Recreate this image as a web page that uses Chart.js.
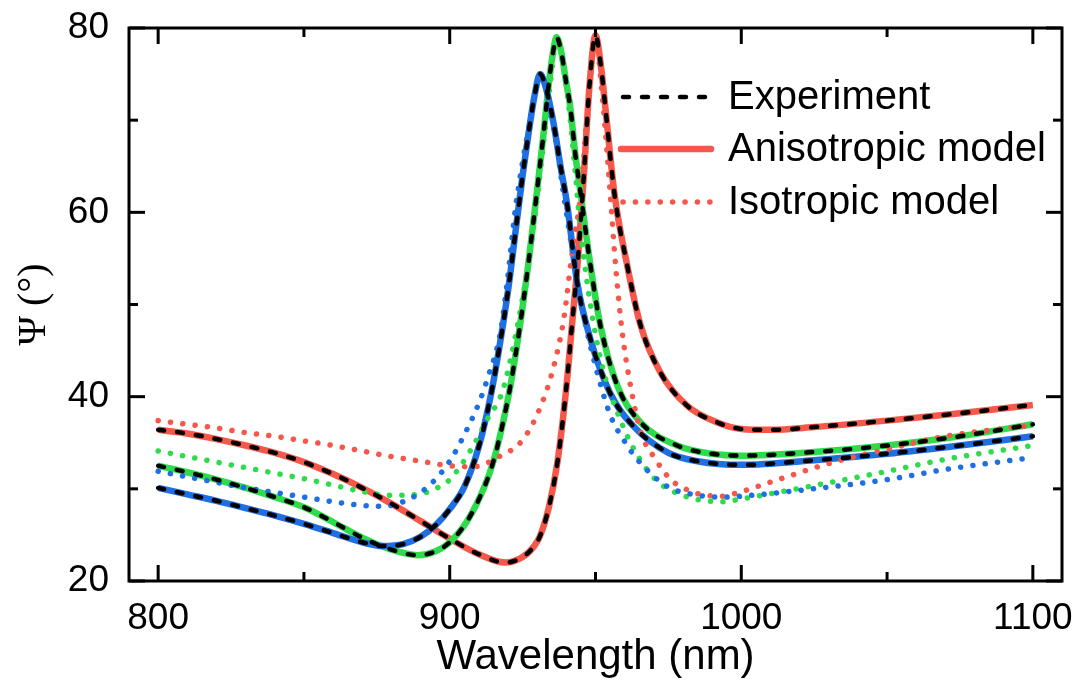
<!DOCTYPE html>
<html lang="en">
<head>
<meta charset="UTF-8">
<title>Psi vs wavelength</title>
<script src="https://cdn.jsdelivr.net/npm/chart.js"></script>
<style>
    body { margin: 0; background: #fff; }
    #chart { display: block; }
</style>
</head>
<body>
<canvas id="chart" width="1086" height="683"></canvas>

<script>
// Values (wavelength in nm, Psi in degrees)
const blueAnisoNm  = [800, 810, 820, 830, 840, 850, 860, 870, 877, 884, 890, 895, 900, 905, 910, 914, 917, 920, 923, 925, 927, 929, 931, 933, 935.7, 938, 940.3, 943.7, 948.3, 955, 963, 975, 985, 1000, 1025, 1050, 1075, 1100];
const blueAnisoPsi = [30.1, 29.4, 28.7, 27.9, 27.1, 26.2, 25.2, 24.2, 23.8, 24.0, 24.8, 26.0, 27.8, 30.2, 34.6, 40.0, 45.3, 51.5, 59.0, 64.0, 68.5, 72.5, 75.0, 73.5, 69.5, 65.0, 60.8, 52.4, 46.2, 40.4, 36.8, 33.9, 33.0, 32.6, 33.1, 33.8, 34.7, 35.7];

const greenAnisoNm  = [800, 810, 820, 830, 840, 850, 860, 870, 880, 889, 895, 900, 906, 912, 915, 918, 921, 924, 927, 930, 932, 934, 935.5, 936.6, 938, 940, 941.4, 943, 945, 948.3, 951.7, 957.5, 965.5, 978, 990, 1000, 1025, 1050, 1075, 1100];
const greenAnisoPsi = [32.5, 31.8, 31.0, 30.1, 29.1, 28.0, 26.4, 24.7, 23.4, 22.8, 23.2, 24.2, 26.5, 30.3, 33.0, 36.8, 41.5, 47.5, 54.5, 62.5, 68.0, 74.0, 77.5, 79.0, 77.8, 74.0, 71.3, 66.5, 61.8, 54.2, 47.7, 41.2, 37.2, 34.7, 33.8, 33.6, 34.0, 34.7, 35.7, 37.0];

const redAnisoNm  = [800, 810, 820, 830, 840, 850, 860, 870, 880, 890, 900, 910, 919, 925, 929, 931, 934, 937, 940, 942, 944, 946, 948, 950, 952, 953.5, 956.5, 960.9, 965.5, 972.3, 981.5, 991.8, 1000, 1010, 1025, 1050, 1075, 1100];
const redAnisoPsi = [36.4, 36.0, 35.4, 34.7, 33.9, 32.9, 31.6, 30.1, 28.4, 26.5, 24.6, 22.9, 22.0, 22.6, 23.8, 24.9, 28.0, 33.0, 41.0, 48.0, 55.0, 64.0, 74.0, 79.2, 75.5, 71.0, 62.0, 54.2, 47.7, 42.6, 39.0, 37.2, 36.5, 36.4, 36.7, 37.4, 38.2, 39.1];

const blueIsoNm  = [800, 810, 820, 830, 840, 850, 860, 870, 877, 884, 890, 895, 900, 906, 910.5, 913, 917.4, 919.7, 922.5, 925, 927, 929, 930.8, 932.5, 934.5, 936.5, 939.5, 942, 946, 950.6, 955.2, 960.9, 964.3, 974.4, 983.3, 993.5, 1000, 1019, 1050, 1070, 1100];
const blueIsoPsi = [31.9, 31.3, 30.7, 30.1, 29.6, 29.1, 28.6, 28.2, 28.1, 28.6, 29.6, 31.0, 33.0, 36.5, 39.7, 42.0, 47.0, 52.4, 60.3, 65.5, 69.0, 72.5, 75.0, 74.0, 71.0, 67.5, 61.0, 56.0, 48.7, 42.6, 37.9, 34.7, 33.2, 30.3, 29.4, 29.1, 29.2, 29.8, 31.0, 32.1, 33.4];

const greenIsoNm  = [800, 810, 820, 830, 840, 850, 860, 870, 880, 889, 895, 900, 907, 912.8, 918, 920.8, 924.3, 928.8, 932, 934.5, 936.8, 938.5, 941, 943, 944.9, 948.9, 952.9, 957.5, 963.2, 970.6, 980.8, 993.5, 1000, 1019, 1050, 1070, 1100];
const greenIsoPsi = [34.1, 33.5, 32.9, 32.3, 31.7, 31.1, 30.4, 29.7, 29.3, 29.4, 30.0, 31.0, 34.1, 37.5, 40.5, 44.0, 49.5, 58.5, 67.0, 74.0, 78.8, 77.0, 71.0, 64.5, 58.0, 48.7, 42.6, 38.3, 34.3, 31.0, 29.2, 28.6, 28.9, 30.0, 31.9, 33.2, 34.7];

const redIsoNm  = [800, 810, 820, 830, 840, 850, 860, 870, 880, 890, 900, 908, 917, 925, 931, 935.7, 939.1, 942, 944.9, 947.5, 950, 952.5, 955.2, 956.9, 959.2, 962, 965.5, 970.6, 975.8, 980.8, 986, 993.5, 1000, 1012.6, 1031.7, 1050, 1070, 1100];
const redIsoPsi = [37.4, 37.0, 36.6, 36.1, 35.7, 35.2, 34.7, 34.1, 33.5, 33.0, 32.5, 32.4, 33.5, 35.3, 38.8, 43.3, 48.4, 55.6, 62.0, 72.0, 78.5, 72.0, 61.4, 54.2, 46.9, 41.2, 36.2, 33.2, 31.0, 30.0, 29.4, 29.2, 29.7, 31.0, 32.9, 34.3, 35.7, 36.9];

const xMajorTicks = [800, 900, 1000, 1100];
const xMinorTicks = [850, 950, 1050];
const yMajorTicks = [20, 40, 60, 80];
const yMinorTicks = [30, 50, 70];

const legendLabels = ['Experiment', 'Anisotropic model', 'Isotropic model'];

const RED = '#F5584A';
const GREEN = '#2EDB4C';
const BLUE = '#1D6FE2';
const SANS = '"Liberation Sans", Arial, sans-serif';

function pts(nm, psi) {
    return nm.map((v, i) => ({ x: v, y: psi[i] }));
}

function solid(nm, psi, color) {
    return { data: pts(nm, psi), borderColor: color, borderWidth: 6.5, order: 3 };
}
function dotted(nm, psi, color) {
    return { data: pts(nm, psi), borderColor: color, borderWidth: 5.5,
             borderDash: [0.1, 12.3], borderCapStyle: 'round', order: 2 };
}
// experiment curves sit right on top of the anisotropic fits
function dashed(nm, psi) {
    return { data: pts(nm, psi), borderColor: '#000', borderWidth: 4.5,
             borderDash: [6, 13], borderCapStyle: 'round', order: 1 };
}

const datasets = [
    solid(blueAnisoNm, blueAnisoPsi, BLUE),
    solid(greenAnisoNm, greenAnisoPsi, GREEN),
    solid(redAnisoNm, redAnisoPsi, RED),
    dotted(blueIsoNm, blueIsoPsi, BLUE),
    dotted(greenIsoNm, greenIsoPsi, GREEN),
    dotted(redIsoNm, redIsoPsi, RED),
    dashed(blueAnisoNm, blueAnisoPsi),
    dashed(greenAnisoNm, greenAnisoPsi),
    dashed(redAnisoNm, redAnisoPsi)
];

// box around the plot with inward ticks on all four sides
const framePlugin = {
    id: 'frame',
    afterDraw(chart) {
        const { ctx, chartArea: a, scales: { x, y } } = chart;
        const seg = (x1, y1, x2, y2) => { ctx.beginPath(); ctx.moveTo(x1, y1); ctx.lineTo(x2, y2); ctx.stroke(); };
        ctx.save();
        ctx.strokeStyle = '#000';
        ctx.lineWidth = 3;
        ctx.lineCap = 'butt';
        xMajorTicks.forEach(v => { const p = x.getPixelForValue(v); seg(p, a.bottom, p, a.bottom - 16); seg(p, a.top, p, a.top + 16); });
        xMinorTicks.forEach(v => { const p = x.getPixelForValue(v); seg(p, a.bottom, p, a.bottom - 9); seg(p, a.top, p, a.top + 9); });
        yMajorTicks.forEach(v => { const p = y.getPixelForValue(v); seg(a.left, p, a.left + 16, p); seg(a.right, p, a.right - 16, p); });
        yMinorTicks.forEach(v => { const p = y.getPixelForValue(v); seg(a.left, p, a.left + 9, p); seg(a.right, p, a.right - 9, p); });
        ctx.strokeRect(a.left, a.top, a.right - a.left, a.bottom - a.top);
        ctx.restore();
    }
};

const legendPlugin = {
    id: 'psiLegend',
    afterDraw(chart) {
        const ctx = chart.ctx;
        const rows = [97, 149, 202];
        const x0 = 621, x1 = 711;
        ctx.save();
        ctx.lineCap = 'round';
        // Experiment
        ctx.strokeStyle = '#000'; ctx.lineWidth = 4.5; ctx.setLineDash([6, 13]);
        ctx.beginPath(); ctx.moveTo(x0 + 2, rows[0]); ctx.lineTo(x1, rows[0]); ctx.stroke();
        // Anisotropic
        ctx.strokeStyle = RED; ctx.lineWidth = 6.5; ctx.setLineDash([]);
        ctx.beginPath(); ctx.moveTo(x0, rows[1]); ctx.lineTo(x1, rows[1]); ctx.stroke();
        // Isotropic
        ctx.lineWidth = 5.5; ctx.setLineDash([0.1, 12.3]);
        ctx.beginPath(); ctx.moveTo(x0 + 2, rows[2]); ctx.lineTo(x1, rows[2]); ctx.stroke();
        ctx.setLineDash([]);
        ctx.fillStyle = '#000';
        ctx.font = '40px ' + SANS;
        ctx.textBaseline = 'middle';
        legendLabels.forEach((t, i) => ctx.fillText(t, 728, rows[i] + 1));
        ctx.restore();
    }
};

new Chart(document.getElementById('chart'), {
    type: 'line',
    data: { datasets: datasets },
    options: {
        responsive: false,
        animation: false,
        layout: { padding: { top: 28, right: 24, left: 0, bottom: 0 } },
        elements: { point: { radius: 0 }, line: { cubicInterpolationMode: 'monotone', tension: 0.4 } },
        plugins: { legend: { display: false }, tooltip: { enabled: false } },
        scales: {
            x: {
                type: 'linear',
                min: 790,
                max: 1110,
                grid: { display: false, drawTicks: false },
                border: { display: false },
                afterBuildTicks: s => { s.ticks = xMajorTicks.map(v => ({ value: v })); },
                afterFit: s => { s.height = 102; s.paddingLeft = 0; s.paddingRight = 0; },
                ticks: { color: '#000', font: { family: SANS, size: 37 }, padding: 16, maxRotation: 0,
                         callback: v => String(v) },
                title: { display: true, text: 'Wavelength (nm)', color: '#000',
                         font: { family: SANS, size: 42 }, padding: { top: 0, bottom: 0 } }
            },
            y: {
                min: 20,
                max: 80,
                grid: { display: false, drawTicks: false },
                border: { display: false },
                afterBuildTicks: s => { s.ticks = yMajorTicks.map(v => ({ value: v })); },
                afterFit: s => { s.width = 129; s.paddingTop = 0; s.paddingBottom = 0; },
                ticks: { color: '#000', font: { family: SANS, size: 37 }, padding: 20,
                         callback: v => String(v) },
                title: { display: true, text: 'Ψ (°)', color: '#000',
                         font: { family: '"Liberation Serif", serif', size: 40 }, padding: { top: 10, bottom: 0 } }
            }
        }
    },
    plugins: [framePlugin, legendPlugin]
});
</script>
</body>
</html>
